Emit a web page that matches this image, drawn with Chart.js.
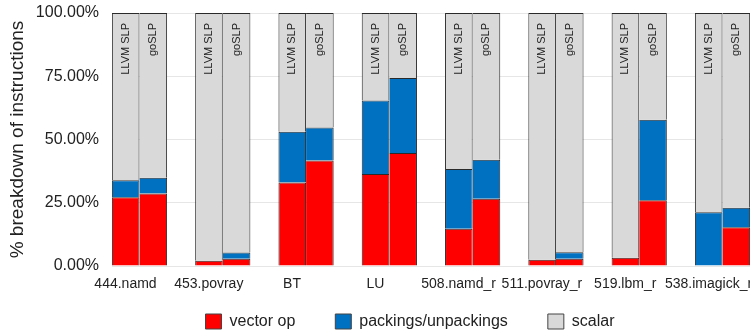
<!DOCTYPE html>
<html>
<head>
<meta charset="utf-8">
<script src="https://cdn.jsdelivr.net/npm/chart.js@4.4.1/dist/chart.umd.min.js"></script>
<style>
  html, body { margin: 0; padding: 0; width: 750px; height: 336px; overflow: hidden; background: #fff; }
  #wrap { position: absolute; left: 0; top: 0; width: 820px; height: 336px; }
</style>
</head>
<body>
<div id="wrap"><canvas id="chart" width="820" height="336"></canvas></div>
<script>
// Benchmarks on the x axis
const categories = ['444.namd', '453.povray', 'BT', 'LU', '508.namd_r', '511.povray_r', '519.lbm_r', '538.imagick_r'];
const stackNames = ['LLVM SLP', 'goSLP'];
const seriesNames = ['vector op', 'packings/unpackings', 'scalar'];

// Share of instructions (%) for LLVM SLP
const llvmVector  = [27.2, 2.1, 33.0, 36.4, 14.7, 2.5, 3.3, 0.0];
const llvmPacking = [ 6.7, 0.0, 20.1, 29.0, 23.6, 0.0, 0.0, 21.2];
const llvmScalar  = [66.1, 97.9, 46.9, 34.6, 61.7, 97.5, 96.7, 78.8];

// Share of instructions (%) for goSLP
const goVector  = [28.7, 2.9, 41.7, 44.7, 26.6, 2.9, 26.0, 15.3];
const goPacking = [ 6.2, 2.4, 13.0, 29.6, 15.4, 2.5, 31.8, 7.7];
const goScalar  = [65.1, 94.7, 45.3, 25.7, 58.0, 94.6, 42.2, 77.0];

const yTicks = [0, 25, 50, 75, 100];

const FONT = '"Liberation Sans", Arial, Helvetica, sans-serif';
Chart.defaults.font.family = FONT;
Chart.defaults.color = '#222';

const colors = ['#ff0000', '#0070c0', '#d9d9d9'];
const points = arr => arr.map((v, i) => ({ x: i, y: v }));

function makeSet(label, values, color, stack, left) {
  return {
    label,
    data: points(values),
    backgroundColor: color,
    borderColor: '#2a2a2a',
    borderWidth: { top: 1, right: 1, bottom: 0, left: left ? 1 : 0 },
    borderSkipped: 'start',
    stack,
    categoryPercentage: 0.663,
    barPercentage: 1.0
  };
}

const datasets = [
  makeSet(seriesNames[0], llvmVector,  colors[0], 'llvm', true),
  makeSet(seriesNames[1], llvmPacking, colors[1], 'llvm', true),
  makeSet(seriesNames[2], llvmScalar,  colors[2], 'llvm', true),
  makeSet(seriesNames[0], goVector,  colors[0], 'go', false),
  makeSet(seriesNames[1], goPacking, colors[1], 'go', false),
  makeSet(seriesNames[2], goScalar,  colors[2], 'go', false)
];

// Writes the compiler name vertically near the top of each bar
const stackLabels = {
  id: 'stackLabels',
  afterDatasetsDraw(chart) {
    const { ctx, chartArea } = chart;
    [[2, stackNames[0]], [5, stackNames[1]]].forEach(([di, text]) => {
      chart.getDatasetMeta(di).data.forEach(bar => {
        ctx.save();
        ctx.translate(bar.x, chartArea.top + 10);
        ctx.rotate(-Math.PI / 2);
        ctx.font = '11px ' + FONT;
        ctx.fillStyle = '#222';
        ctx.textAlign = 'right';
        ctx.textBaseline = 'middle';
        ctx.fillText(text, 0, 0);
        ctx.restore();
      });
    });
  }
};

new Chart(document.getElementById('chart'), {
  type: 'bar',
  data: { datasets },
  plugins: [stackLabels],
  options: {
    responsive: false,
    animation: false,
    devicePixelRatio: 1,
    layout: { padding: { top: 13, left: 0, right: 0, bottom: -3.5 } },
    plugins: {
      tooltip: { enabled: false },
      legend: {
        position: 'bottom',
        labels: {
          boxWidth: 16,
          boxHeight: 15,
          padding: 40,
          font: { size: 16 },
          color: '#222',
          generateLabels: chart => {
            const items = Chart.defaults.plugins.legend.labels.generateLabels(chart)
              .filter(it => it.datasetIndex < 3);
            items.forEach(it => { it.lineWidth = 1; it.strokeStyle = '#444'; });
            return items;
          }
        }
      }
    },
    scales: {
      x: {
        type: 'linear',
        min: -0.33,
        max: 7.33,
        offset: false,
        stacked: true,
        grid: { display: false },
        border: { display: false },
        afterBuildTicks: s => { s.ticks = categories.map((_, i) => ({ value: i })); },
        ticks: {
          autoSkip: false,
          maxRotation: 0,
          minRotation: 0,
          padding: 2,
          labelOffset: -14,
          font: { size: 14 },
          color: '#222',
          callback: v => categories[v]
        },
        afterFit: s => {
          s.paddingLeft = 0;
          s.paddingRight = 70;
          s.height = 7.5;
          // the axis band is kept thin, so its labels are allowed to spill below it
          s._computeLabelArea = () => null;
        }
      },
      y: {
        stacked: true,
        min: 0,
        max: 100,
        afterBuildTicks: s => { s.ticks = yTicks.map(v => ({ value: v })); },
        grid: { color: '#e6e6e6', drawTicks: false },
        border: { display: false },
        ticks: {
          padding: 13,
          font: { size: 16 },
          color: '#222',
          callback: v => v.toFixed(2) + '%'
        },
        title: {
          display: true,
          text: '% breakdown of instructions',
          font: { size: 19 },
          color: '#222',
          padding: { top: 6, bottom: 0 }
        },
        afterFit: s => { s.width = 112; s.paddingTop = 0; s.paddingBottom = 0; }
      }
    }
  }
});
</script>
</body>
</html>
